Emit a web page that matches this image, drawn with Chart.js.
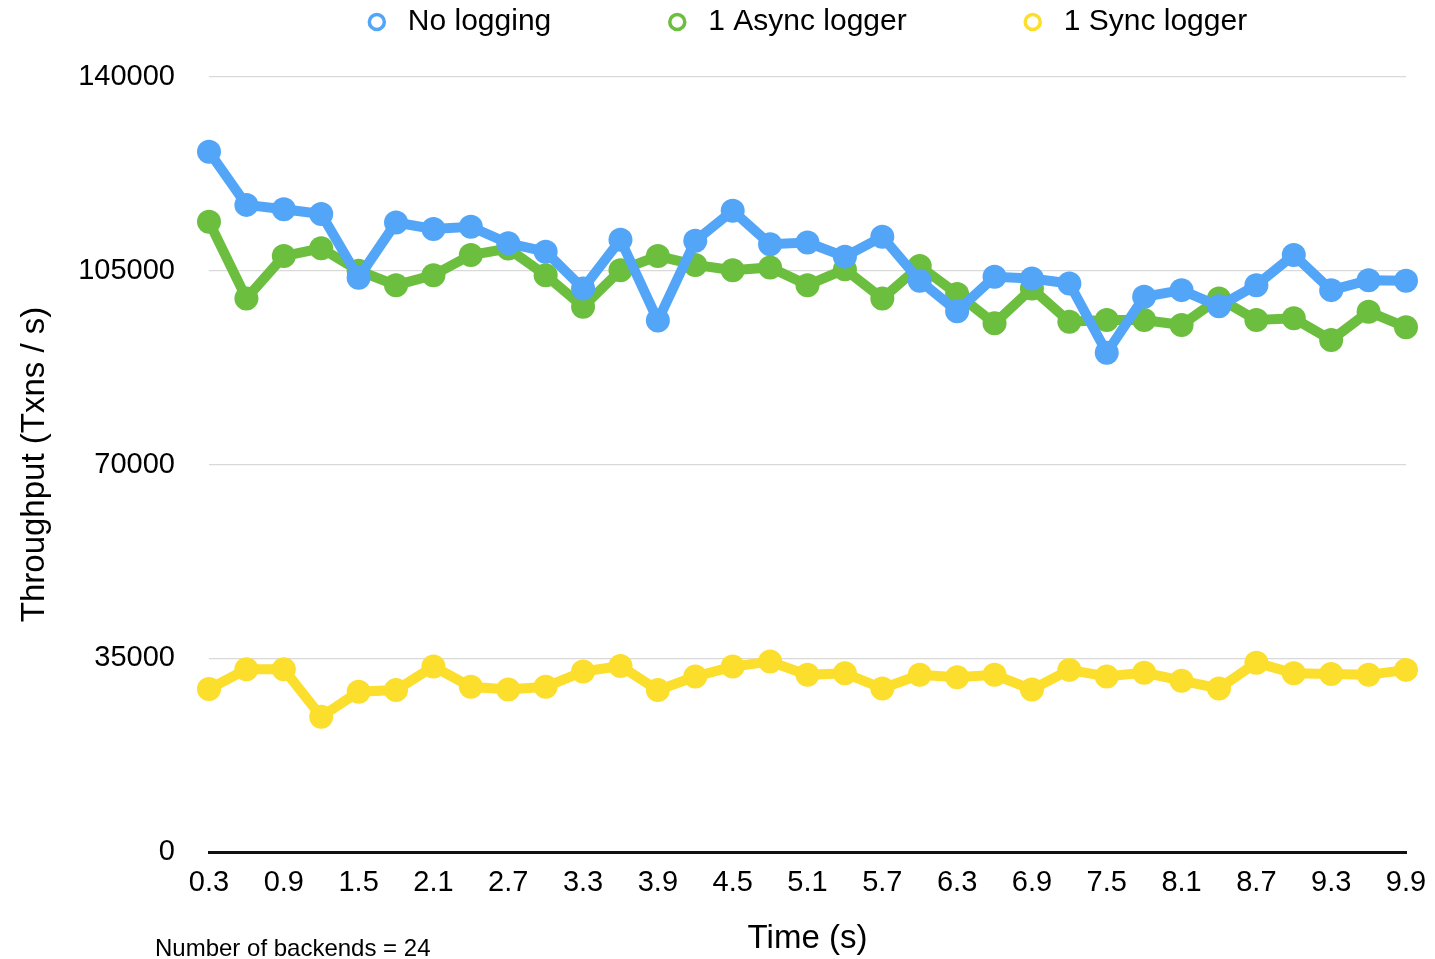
<!DOCTYPE html>
<html lang="en">
<head>
  <meta charset="UTF-8">
  <title>Throughput vs time</title>
  <script src="https://cdn.jsdelivr.net/npm/chart.js"></script>
  <style>
    body { margin: 0; background: #fff; overflow: hidden; }
    .wrap { position: relative; width: 1435px; height: 959px; }
    .note {
      position: absolute; left: 155px; top: 934px;
      font: 24px "Liberation Sans", Arial, sans-serif; line-height: 28px; color: #000;
    }
  </style>
</head>
<body>
  <div class="wrap">
    <canvas id="chart" width="1435" height="959"></canvas>
    <div class="note">Number of backends = 24</div>
  </div>

  <script>
    // time in seconds
    const times = ['0.3', '0.6', '0.9', '1.2', '1.5', '1.8', '2.1', '2.4', '2.7', '3.0', '3.3',
                   '3.6', '3.9', '4.2', '4.5', '4.8', '5.1', '5.4', '5.7', '6.0', '6.3', '6.6',
                   '6.9', '7.2', '7.5', '7.8', '8.1', '8.4', '8.7', '9.0', '9.3', '9.6', '9.9'];

    // throughput (txns / s)
    const noLogging = [126500, 116900, 116100, 115250, 103750, 113700, 112550, 112950, 109950, 108450, 101800,
                       110600, 96000, 110400, 115850, 109800, 110100, 107550, 111150, 103200, 97700, 103900,
                       103600, 102700, 90200, 100300, 101500, 98600, 102400, 107850, 101500, 103300, 103200];
    const asyncLogger = [113850, 100000, 107650, 109050, 105000, 102400, 104200, 107850, 109000, 104200, 98500,
                         105100, 107650, 106050, 105100, 105600, 102400, 105250, 100000, 105850, 100800, 95500,
                         101800, 95800, 96100, 96100, 95200, 100000, 96100, 96400, 92500, 97600, 94800];
    const syncLogger = [29450, 33000, 33000, 24450, 28950, 29250, 33500, 29850, 29350, 29850, 32600,
                        33600, 29250, 31700, 33500, 34400, 32000, 32300, 29550, 32000, 31550, 32000,
                        29350, 32900, 31700, 32400, 30950, 29550, 34200, 32300, 32150, 32000, 32900];

    const yTicks = [0, 35000, 70000, 105000, 140000];

    const FONT = '"Liberation Sans", Arial, Helvetica, sans-serif';

    function series(label, data, color) {
      return {
        label: label,
        data: data,
        borderColor: color,
        backgroundColor: color,
        borderWidth: 10,
        pointRadius: 12,
        pointBorderWidth: 0,
        pointBackgroundColor: color,
        tension: 0
      };
    }

    // legend drawn above the plot, centred on the chart area
    const topLegend = {
      id: 'topLegend',
      afterDraw(chart) {
        const ctx = chart.ctx;
        const area = chart.chartArea;
        const sets = chart.data.datasets;
        ctx.save();
        ctx.font = '30px ' + FONT;
        const widths = sets.map(d => 31 + ctx.measureText(d.label).width);
        const gap = 126;
        const total = widths.reduce((a, b) => a + b, 0) + gap * (sets.length - 1) + 9;
        let x = (area.left + area.right) / 2 - total / 2 + 9;
        const y = 22;
        sets.forEach((d, i) => {
          ctx.beginPath();
          ctx.arc(x, y, 7.5, 0, Math.PI * 2);
          ctx.fillStyle = '#fff';
          ctx.fill();
          ctx.lineWidth = 3.5;
          ctx.strokeStyle = d.borderColor;
          ctx.stroke();
          ctx.fillStyle = '#000';
          ctx.textBaseline = 'middle';
          ctx.textAlign = 'left';
          ctx.fillText(d.label, x + 31, y);
          x += widths[i] + gap;
        });
        ctx.restore();
      }
    };

    new Chart(document.getElementById('chart'), {
      type: 'line',
      data: {
        labels: times,
        datasets: [
          series('No logging', noLogging, '#52A5F7'),
          series('1 Async logger', asyncLogger, '#6CBE3F'),
          series('1 Sync logger', syncLogger, '#FCDE2C')
        ]
      },
      options: {
        responsive: false,
        animation: false,
        layout: { padding: { top: 77, right: 29, bottom: 0, left: 0 } },
        plugins: {
          legend: { display: false },
          tooltip: { enabled: false }
        },
        scales: {
          x: {
            offset: false,
            grid: { display: false },
            border: { display: true, color: '#111', width: 3 },
            ticks: {
              autoSkip: false,
              maxRotation: 0,
              padding: 6,
              color: '#000',
              font: { family: FONT, size: 29 },
              callback: function (v, i) { return i % 2 === 0 ? times[i] : ''; }
            },
            title: {
              display: true,
              text: 'Time (s)',
              color: '#000',
              font: { family: FONT, size: 33 },
              padding: { top: 0, bottom: 0 }
            },
            afterFit(scale) {
              scale.height = 107;
              scale.paddingLeft = 0;
              scale.paddingRight = 0;
            }
          },
          y: {
            min: 0,
            max: 140000,
            afterBuildTicks(scale) {
              scale.ticks = yTicks.map(v => ({ value: v }));
            },
            grid: {
              drawTicks: false,
              color: ctx => ctx.tick && ctx.tick.value === 0 ? 'rgba(0,0,0,0)' : '#d9d9d9',
              lineWidth: 1.2
            },
            border: { display: false },
            ticks: {
              padding: 34,
              color: '#000',
              font: { family: FONT, size: 29 },
              callback: v => String(v)
            },
            title: {
              display: true,
              text: 'Throughput (Txns / s)',
              color: '#000',
              font: { family: FONT, size: 33 },
              padding: { top: 15, bottom: 0 }
            },
            afterFit(scale) {
              scale.width = 209;
            }
          }
        }
      },
      plugins: [topLegend]
    });
  </script>
</body>
</html>
